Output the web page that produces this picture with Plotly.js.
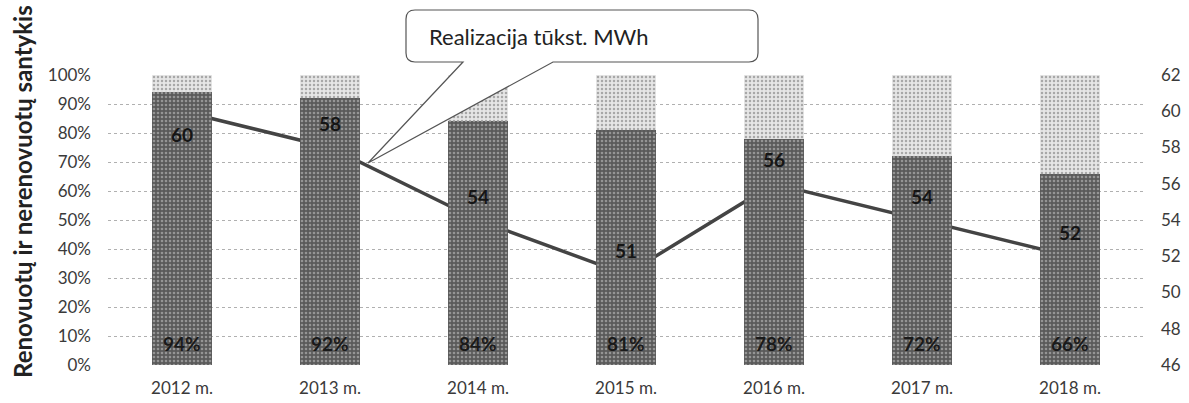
<!DOCTYPE html>
<html>
<head>
<meta charset="utf-8">
<script src="https://cdn.plot.ly/plotly-3.0.1.min.js"></script>
<style>
html,body{margin:0;padding:0;background:#fff;}
#chart{width:1189px;height:403px;}
</style>
</head>
<body>
<div id="chart"></div>
<script>
// ---- data ----
const years = ['2012 m.', '2013 m.', '2014 m.', '2015 m.', '2016 m.', '2017 m.', '2018 m.'];
const renovated = [94, 92, 84, 81, 78, 72, 66];          // %
const nonRenovated = [6, 8, 16, 19, 22, 28, 34];         // %
const sales = [60, 58, 54, 51, 56, 54, 52];              // tūkst. MWh
const calloutText = 'Realizacija tūkst. MWh';
const yTitle = 'Renovuotų ir nerenovuotų santykis';

// ---- layout geometry (pixels) ----
const W = 1189, H = 403;
const M = {l: 108, r: 45, t: 75, b: 38};
const PW = W - M.l - M.r, PH = H - M.t - M.b;
const X = px => (px - M.l) / PW;
const Y = py => (H - M.b - py) / PH;

const FONT = 'Lato, "Noto Sans", sans-serif';

const lineTrace = {
  type: 'scatter', mode: 'lines',
  x: years, y: sales,
  xaxis: 'x', yaxis: 'y',
  line: {color: '#444444', width: 3.5},
  hoverinfo: 'skip', showlegend: false
};

const barRen = {
  type: 'bar', x: years, y: renovated,
  xaxis: 'x', yaxis: 'y2',
  marker: {
    color: '#606060',
    pattern: {shape: '.', bgcolor: '#5a5a5a', fgcolor: '#959595', size: 4, solidity: 0.35},
    line: {width: 0}
  },
  showlegend: false, hoverinfo: 'skip'
};

const barNon = {
  type: 'bar', x: years, y: nonRenovated,
  xaxis: 'x', yaxis: 'y2',
  marker: {
    color: '#d8d8d8',
    pattern: {shape: '.', bgcolor: '#e6e6e6', fgcolor: '#a8a8a8', size: 4, solidity: 0.3},
    line: {width: 0}
  },
  showlegend: false, hoverinfo: 'skip'
};

const labelAnnots = sales.map((v, i) => ({
  x: years[i], y: v, xref: 'x', yref: 'y',
  text: String(v), showarrow: false,
  yshift: v >= 60 ? -23 : 24,
  font: {family: FONT, size: 19, color: '#151515', weight: 'bold'}
}));

const pctAnnots = renovated.map((v, i) => ({
  x: years[i], y: 0, xref: 'x', yref: 'y2',
  text: v + '%', showarrow: false,
  yanchor: 'middle', yshift: 22,
  font: {family: FONT, size: 19, color: '#1a1a1a', weight: 'bold'}
}));

// callout bubble
const rx0 = 406, rx1 = 758, ry0 = 10, ry1 = 62, r = 9;
const tip = [368, 163], b1 = 553, b2 = 463;
const P = (x, y) => X(x) + ',' + Y(y);
const calloutPath =
  'M' + P(rx0 + r, ry0) + ' L' + P(rx1 - r, ry0) + ' Q' + P(rx1, ry0) + ' ' + P(rx1, ry0 + r) +
  ' L' + P(rx1, ry1 - r) + ' Q' + P(rx1, ry1) + ' ' + P(rx1 - r, ry1) +
  ' L' + P(b1, ry1) + ' L' + P(tip[0], tip[1]) + ' L' + P(b2, ry1) +
  ' L' + P(rx0 + r, ry1) + ' Q' + P(rx0, ry1) + ' ' + P(rx0, ry1 - r) +
  ' L' + P(rx0, ry0 + r) + ' Q' + P(rx0, ry0) + ' ' + P(rx0 + r, ry0) + ' Z';

const layout = {
  width: W, height: H,
  margin: M,
  paper_bgcolor: '#fff', plot_bgcolor: '#fff',
  font: {family: FONT, size: 17, color: '#3a3a3a'},
  barmode: 'stack', bargap: 0.6,
  showlegend: false,
  xaxis: {
    type: 'category', showline: false, showgrid: false, zeroline: false,
    ticks: '', tickfont: {family: FONT, size: 17, color: '#3a3a3a'},
    ticklabelstandoff: 11
  },
  yaxis: {
    side: 'right', range: [46, 62], dtick: 2, tick0: 46,
    showgrid: false, zeroline: false, showline: false, ticks: '',
    tickfont: {family: FONT, size: 17, color: '#3a3a3a'},
    ticklabelstandoff: 16
  },
  yaxis2: {
    overlaying: 'y', side: 'left', range: [0, 100], dtick: 10, tick0: 0,
    ticksuffix: '%',
    showgrid: true, gridcolor: '#b0b0b0', griddash: 'dot', gridwidth: 1,
    zeroline: false, showline: false, ticks: '',
    tickfont: {family: FONT, size: 17, color: '#3a3a3a'},
    ticklabelstandoff: 16
  },
  shapes: [{
    type: 'path', xref: 'paper', yref: 'paper', layer: 'above',
    path: calloutPath, fillcolor: '#ffffff',
    line: {color: '#555555', width: 1.2}
  }],
  annotations: labelAnnots.concat(pctAnnots, [
    {
      xref: 'paper', yref: 'paper', x: X(427), y: Y(37),
      xanchor: 'left', yanchor: 'middle', showarrow: false,
      text: calloutText,
      font: {family: FONT, size: 22, color: '#222'}
    },
    {
      xref: 'paper', yref: 'paper', x: X(22), y: Y(192),
      xanchor: 'center', yanchor: 'middle', showarrow: false,
      textangle: -90, text: yTitle,
      font: {family: FONT, size: 24, color: '#222', weight: 'bold'}
    }
  ])
};

Plotly.newPlot('chart', [lineTrace, barRen, barNon], layout, {staticPlot: true, displayModeBar: false});
</script>
</body>
</html>
